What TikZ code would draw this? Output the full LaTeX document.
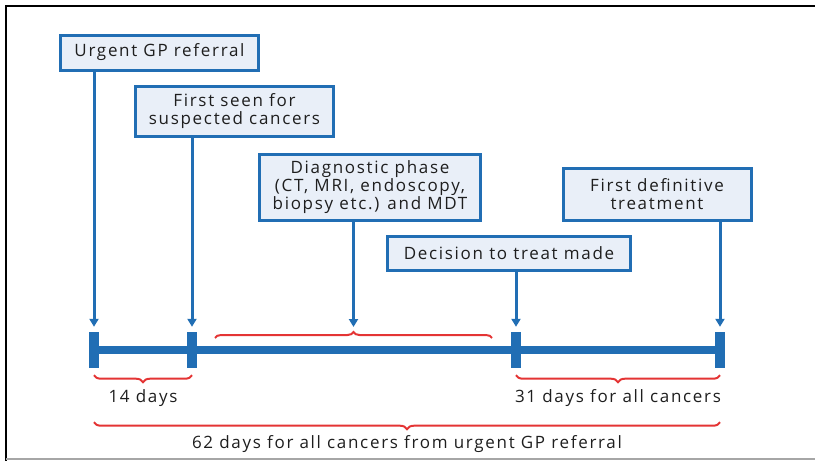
\documentclass[tikz,border=0pt]{standalone}
\usepackage{fontspec}
\setmainfont[LetterSpace=10]{Open Sans}
\usetikzlibrary{arrows.meta,positioning,calc,decorations.pathreplacing}
\definecolor{pathblue}{RGB}{33,110,180}
\definecolor{paleblue}{RGB}{233,239,248}
\definecolor{bracered}{RGB}{228,52,52}
\definecolor{inkgrey}{RGB}{30,30,30}

\begin{document}
\begin{tikzpicture}[x=1pt,y=-1pt,
  every node/.style={font=\fontsize{17}{18}\selectfont,text=inkgrey},
  stage/.style={draw=pathblue,line width=3pt,fill=paleblue,inner sep=0pt,align=center},
  tick/.style={fill=pathblue,minimum width=10pt,minimum height=36pt,inner sep=0pt},
  arr/.style={pathblue,line width=3pt,-{Triangle[width=9pt,length=8pt]},shorten >=5pt},
  brc/.style={decorate,decoration={brace,amplitude=6pt},bracered,line width=2pt},
  lbrc/.style={decorate,decoration={brace,mirror,amplitude=7pt},bracered,line width=2pt}]
\useasboundingbox (0,0) rectangle (815,461);
% frame
\draw[black,line width=2pt] (5,6) -- (815,6);
\draw[black,line width=2pt] (6,6) -- (6,461);
\draw[black!35,line width=2pt] (6,459) -- (815,459);

% stages
\node[stage,minimum width=198pt,minimum height=35pt] (gp) at (159.5,52.5) {Urgent GP referral};
\node[stage,minimum width=198pt,minimum height=50pt] (seen) at (234.5,111.5) {First seen for\\suspected cancers};
\node[stage,minimum width=221pt,minimum height=66pt] (diag) at (370,187.5) {Diagnostic phase\\(CT, MRI, endoscopy,\\biopsy etc.) and MDT};
\node[stage,minimum width=243pt,minimum height=34pt] (dec) at (509,253.5) {Decision to treat made};
\node[stage,minimum width=188pt,minimum height=52pt] (treat) at (657,194.5) {First definitive\\treatment};

% timeline
\node[tick] (k1) at (94,350) {};
\node[tick] (k2) at (192,350) {};
\node[tick] (k4) at (516,350) {};
\node[tick] (k5) at (720,350) {};
\draw[pathblue,line width=8pt] (k1.center) -- (k5.center);

% diagnostic brace
\coordinate (bl) at (215,338);
\coordinate (br) at (492,338);
\coordinate (bm) at ($(bl)!.5!(br)$);
\draw[brc] (bl) -- (br);

\draw[arr] (gp.south -| k1) -- (k1.north);
\draw[arr] (seen.south -| k2) -- (k2.north);
\draw[arr,shorten >=11pt] (diag.south -| bm) -- (bm);
\draw[arr] (dec.south -| k4) -- (k4.north);
\draw[arr] (treat.south -| k5) -- (k5.north);

% waiting times
\draw[lbrc] ($(k1.south)+(0,7)$) -- ($(k2.south)+(0,7)$)
  node[midway,yshift=-23pt] (d14) {14 days};
\draw[lbrc] ($(k4.south)+(0,7)$) -- ($(k5.south)+(0,7)$)
  node[midway,yshift=-23pt] (d31) {31 days for all cancers};
\draw[lbrc] ($(k1.south)+(0,54)$) -- ($(k5.south)+(0,54)$)
  node[midway,yshift=-22pt] (d62) {62 days for all cancers from urgent GP referral};
\end{tikzpicture}
\end{document}
